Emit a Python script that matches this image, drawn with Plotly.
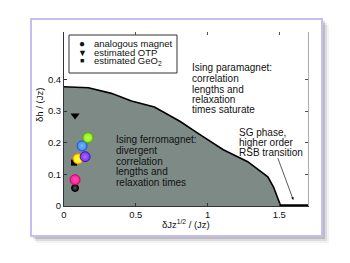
import plotly.graph_objects as go

# phase boundary
bx = [0.0, 0.17, 0.33, 0.47, 0.63, 0.81, 0.95, 1.11, 1.28, 1.42, 1.46, 1.51]
by = [0.377, 0.374, 0.356, 0.332, 0.313, 0.267, 0.225, 0.178, 0.14, 0.092, 0.06, 0.0]
# SG line along axis
sgx = [1.51, 1.7]
sgy = [0.0, 0.0]

# analogous magnets (coloured spheres)
mag_x = [0.077, 0.077, 0.098, 0.147, 0.126, 0.167]
mag_y = [0.057, 0.083, 0.149, 0.156, 0.19, 0.216]
mag_edge = ["#000000", "#d0005a", "#ff8c00", "#4a10b0", "#1f55c8", "#4fb800"]
mag_core = ["#555555", "#ff55c0", "#ffff30", "#a070ff", "#7ab8ff", "#c8ff50"]
mag_fill = ["#000000", "#ff1a90", "#ffee00", "#7a30e8", "#3f86ee", "#84ee10"]
# OTP and GeO2 estimates
otp_x, otp_y = [0.077], [0.286]
geo_x, geo_y = [0.07], [0.137]

# texts
para_lines = ["Ising paramagnet:", "correlation", "lengths and", "relaxation", "times saturate"]
ferro_lines = ["Ising ferromagnet:", "divergent", "correlation", "lengths and", "relaxation times"]
sg_lines = ["SG phase,", "higher order", "RSB transition"]
leg_sym = ["●", "▼", "■"]
leg_txt = ["analogous magnet", "estimated OTP", "estimated GeO<sub>2</sub>"]

FONT = "Liberation Sans, Arial, Helvetica, sans-serif"

fig = go.Figure()
fig.add_trace(go.Scatter(x=bx + sgx, y=by + sgy, mode="lines", fill="tozeroy",
                         fillcolor="#7d8a86", line=dict(color="black", width=1.6),
                         showlegend=False, hoverinfo="skip"))
fig.add_trace(go.Scatter(x=sgx, y=sgy, mode="lines", line=dict(color="black", width=3.5),
                         showlegend=False))
fig.add_trace(go.Scatter(x=geo_x, y=geo_y, mode="markers",
                         marker=dict(symbol="square", size=6, color="black"), showlegend=False))
fig.add_trace(go.Scatter(x=otp_x, y=otp_y, mode="markers",
                         marker=dict(symbol="triangle-down", size=8, color="black"), showlegend=False))
for i in range(len(mag_x)):
    sz = 7 if i == 0 else 10
    fig.add_trace(go.Scatter(x=[mag_x[i]], y=[mag_y[i]], mode="markers",
                             marker=dict(size=sz, color=mag_fill[i],
                                         gradient=dict(type="radial", color=mag_core[i]),
                                         line=dict(color=mag_edge[i], width=1)),
                             showlegend=False))
# dummy trace for mirror axes
fig.add_trace(go.Scatter(x=[None], y=[None], xaxis="x2", yaxis="y2", showlegend=False))

# card with shadow (positions given in page pixels, plot area spans 64..308 x 32..206)
def rect(x0, y0, x1, y1, layer="below", **kw):
    fig.add_shape(type="rect", xref="paper", yref="paper",
                  x0=(x0 - 64) / 244, x1=(x1 - 64) / 244,
                  y0=(206 - y1) / 174, y1=(206 - y0) / 174, layer=layer, **kw)

rect(36, 25, 329, 243, fillcolor="rgba(0,0,0,0.05)", line=dict(width=0))
rect(35, 23, 327, 241, fillcolor="rgba(0,0,0,0.09)", line=dict(width=0))
rect(33, 21, 325, 239, fillcolor="rgba(0,0,0,0.14)", line=dict(width=0))
rect(31, 19, 322, 236, fillcolor="white", line=dict(color="#c8bcf0", width=2))
# legend box
rect(69, 35, 177, 73, layer="above", fillcolor="rgba(0,0,0,0)", line=dict(color="#333", width=1))

def px_ann(text, x, y, size=10, **kw):
    fig.add_annotation(text=text, xref="paper", yref="paper",
                       x=(x - 64) / 244, y=(206 - y) / 174, showarrow=False,
                       font=dict(family=FONT, size=size, color="#111"), **kw)

# legend
leg_y = [43, 52.5, 60.5]
leg_sz = [10, 9, 7]
for s, t, yy, ss in zip(leg_sym, leg_txt, leg_y, leg_sz):
    px_ann(s, 82, yy, size=ss, xanchor="center", yanchor="middle")
    px_ann(t, 92, yy, size=9.5, xanchor="left", yanchor="middle")

# axis titles
px_ann("δh / (Jz)", 39, 105, size=9.5, textangle=-90, xanchor="center", yanchor="middle")
px_ann("δJz<sup>1/2</sup> / (Jz)", 186, 224, size=9.5, xanchor="center", yanchor="middle")

# region labels
for lines, x0, ys in [(para_lines, 190, [68, 78.5, 89, 99, 109]),
                      (ferro_lines, 114, [139, 150, 161, 171.5, 182]),
                      (sg_lines, 237, [132, 142, 152.5])]:
    for t, yy in zip(lines, ys):
        px_ann(t, x0, yy, size=10, xanchor="left", yanchor="middle")

fig.add_annotation(x=1.598, y=0.019, ax=1.486, ay=0.156, xref="x", yref="y",
                   axref="x", ayref="y", showarrow=True, arrowhead=2, arrowsize=0.8,
                   arrowwidth=0.7, arrowcolor="#111", text="")

axfont = dict(family=FONT, size=9.5, color="#111")
# page body has an 8px default margin, so margins are reduced by 8px
fig.update_layout(
    width=350, height=263,
    margin=dict(l=56, r=50, t=24, b=65),
    paper_bgcolor="white", plot_bgcolor="rgba(0,0,0,0)",
    showlegend=False,
    xaxis=dict(range=[0, 1.7], tickvals=[0, 0.5, 1, 1.5], ticktext=["0", "0.5", "1", "1.5"],
               ticks="inside", ticklen=3, tickcolor="#333", showgrid=False, zeroline=False,
               showline=True, linecolor="#333", linewidth=1, tickfont=axfont),
    yaxis=dict(range=[0, 0.55], tickvals=[0, 0.1, 0.2, 0.3, 0.4],
               ticktext=["0", "0.1", "0.2", "0.3", "0.4"],
               ticks="inside", ticklen=3, tickcolor="#333", showgrid=False, zeroline=False,
               showline=True, linecolor="#333", linewidth=1, tickfont=axfont),
    xaxis2=dict(overlaying="x", side="top", matches="x", anchor="y2", range=[0, 1.7],
                tickvals=[0.5, 1, 1.5], ticks="inside", ticklen=3, tickcolor="#555",
                showticklabels=False, showline=False, showgrid=False, zeroline=False),
    yaxis2=dict(overlaying="y", side="right", matches="y", anchor="x2", range=[0, 0.55],
                tickvals=[0.1, 0.2, 0.3, 0.4], ticks="inside", ticklen=3, tickcolor="#555",
                showticklabels=False, showline=True, linecolor="#aaa", linewidth=1,
                showgrid=False, zeroline=False),
)
fig.write_html("out.html")
